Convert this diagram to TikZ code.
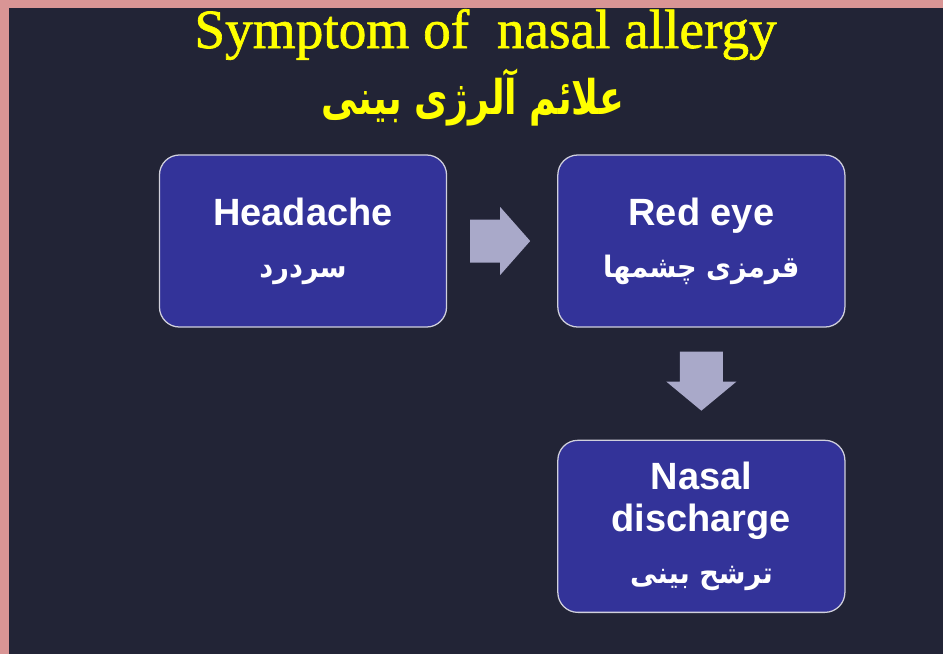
\documentclass[tikz,border=0pt]{standalone}
\usepackage{fontspec}
\setmainfont{Liberation Serif}
\setsansfont{Liberation Sans}
\newfontfamily\ttlfont[FakeBold=1.2]{Liberation Serif}
\newfontfamily\farsi[Script=Arabic, FakeStretch=0.92]{DejaVu Sans}
\newfontfamily\farsinarrow[Script=Arabic, FakeStretch=0.76]{DejaVu Sans}
\TeXXeTstate=1
\usetikzlibrary{positioning, calc}
\definecolor{bgnavy}{HTML}{222436}
\definecolor{rimpink}{HTML}{D99595}
\definecolor{boxblue}{HTML}{333399}
\definecolor{boxedge}{HTML}{D0D0DC}
\definecolor{arrowgrey}{HTML}{A9A9C9}
\definecolor{ttlyellow}{HTML}{FFFF00}

\begin{document}
\begin{tikzpicture}[
    x=0.025cm, y=-0.025cm,
    sym/.style={draw=boxedge, line width=0.9pt, fill=boxblue, rounded corners=0.5cm, minimum width=7.175cm, minimum height=4.3cm, align=center, text=white, inner sep=0pt, font=\sffamily\bfseries\fontsize{27}{30}\selectfont},
    blk/.style={fill=arrowgrey},
    ttl/.style={text=ttlyellow, inner sep=0pt}
]
\fill[rimpink] (0,0) rectangle (943,654);
\fill[bgnavy] (9,8) rectangle (943,654);
\useasboundingbox (0,0) rectangle (943,654);

\node[ttl, anchor=base, font=\ttlfont\fontsize{39.3}{42}\selectfont] (title) at (485.5,48) {Symptom of\ \ nasal allergy};
\node[ttl, font=\farsinarrow\bfseries\fontsize{34}{38}\selectfont] (subtitle) at (473,97) {\beginR علائم آلرژی بینی\endR};

\node[sym] (headache) at (303,241) {Headache\\[7pt]{\farsi\fontsize{21}{24}\selectfont\beginR سردرد\endR}};
\node[sym, right=2.75cm of headache] (redeye) {Red eye\\[7pt]{\farsi\fontsize{21}{24}\selectfont\beginR قرمزی چشمها\endR}};
\node[sym, below=2.8cm of redeye] (discharge) {Nasal\\discharge\\[7pt]{\farsi\fontsize{21}{24}\selectfont\beginR ترشح بینی\endR}};

% block arrows between the boxes
\coordinate (hr) at ($(headache.east)!0.5!(redeye.west)$);
\coordinate (rd) at ($(redeye.south)!0.5!(discharge.north)$);
\fill[blk] ($(hr)+(-32,-21.5)$) -- ++(30,0) -- ++(0,-12.5) -- ++(30,34) -- ++(-30,34) -- ++(0,-12.5) -- ++(-30,0) -- cycle;
\fill[blk] ($(rd)+(-21.5,-32)$) -- ++(0,30) -- ++(-13.5,0) -- ++(35,29) -- ++(35,-29) -- ++(-13.5,0) -- ++(0,-30) -- cycle;
\end{tikzpicture}
\end{document}
